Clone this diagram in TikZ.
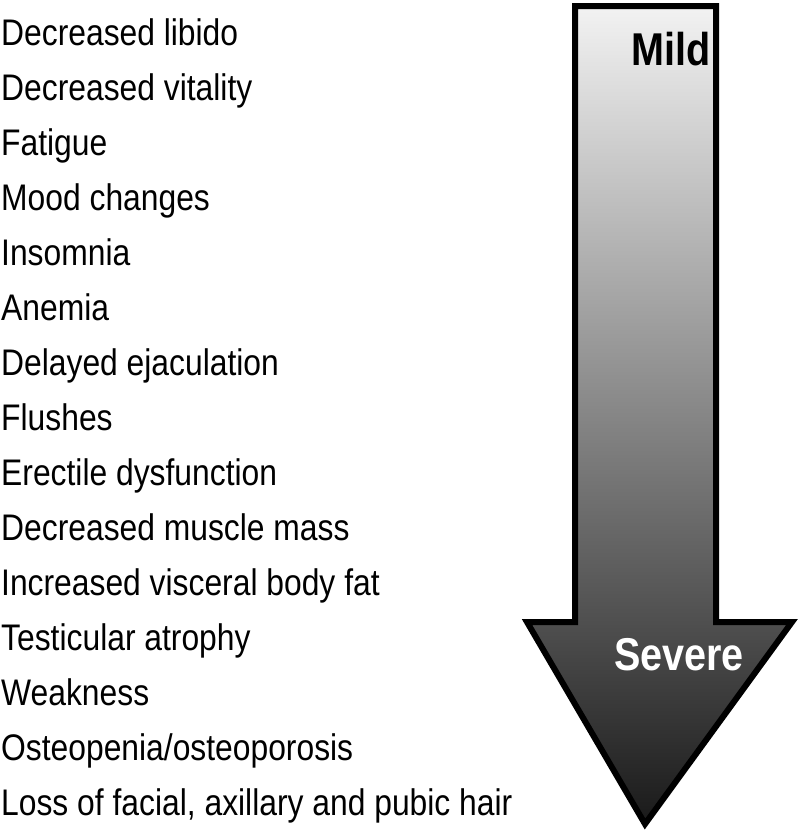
\documentclass[tikz,border=0pt]{standalone}
\usepackage{fontspec}
\setmainfont{Liberation Sans}[FakeStretch=0.86]
\begin{document}
\begin{tikzpicture}[x=1pt,y=-1pt,
  item/.style={anchor=base west,inner sep=0pt,font=\fontsize{37}{38}\selectfont},
  lab/.style={font=\fontsize{46}{48}\selectfont\bfseries,inner sep=0pt}]
\useasboundingbox (0,0) rectangle (799,831);
\path[top color=gray!10,bottom color=black!90,draw=black,line width=6pt,line join=miter]
  (575,6) -- (716,6) -- (716,622) -- (792,622) -- (645,824) -- (527,622) -- (575,622) -- cycle;
\node[lab] (mild) at (671,49) {Mild};
\node[lab,text=white] (sev) at (679,655) {Severe};
\foreach \t [count=\i from 0] in {Decreased libido,Decreased vitality,Fatigue,Mood changes,Insomnia,Anemia,Delayed ejaculation,Flushes,Erectile dysfunction,Decreased muscle mass,Increased visceral body fat,Testicular atrophy,Weakness,Osteopenia/osteoporosis,{Loss of facial, axillary and pubic hair}}
  \node[item] (t\i) at (1,45+55*\i) {\t};
\end{tikzpicture}
\end{document}
